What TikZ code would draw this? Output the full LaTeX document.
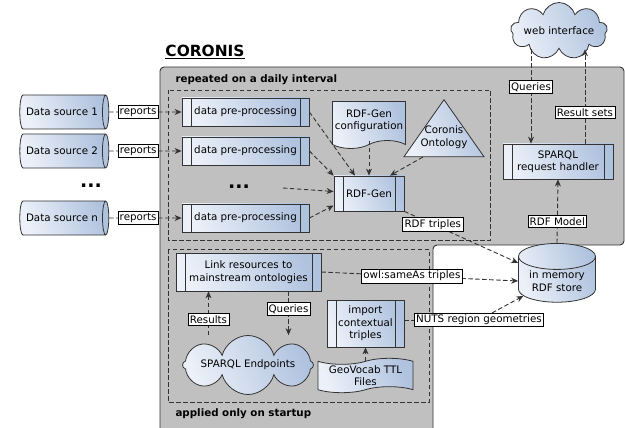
\documentclass[tikz,border=0pt]{standalone}
\usepackage{fontspec}
\setmainfont{DejaVu Sans}
\usetikzlibrary{positioning,shapes.geometric,shapes.symbols,arrows.meta}

\definecolor{boxlight}{HTML}{ECF1F9}
\definecolor{boxdark}{HTML}{AFC2DE}
\definecolor{panelgray}{HTML}{C0C0C0}
\definecolor{linegray}{HTML}{333333}

\tikzset{
    Fill/.style = {left color=boxlight, right color=boxdark, shading angle=110, draw=linegray, line width=0.8pt},
    Proc/.style = {Fill, rectangle, align=center, inner sep=1pt,
        path picture = {
            \draw[linegray, line width=0.8pt] ([xshift=9pt]path picture bounding box.north west) -- ([xshift=9pt]path picture bounding box.south west);
            \draw[linegray, line width=0.8pt] ([xshift=-9pt]path picture bounding box.north east) -- ([xshift=-9pt]path picture bounding box.south east);
        }},
    Source/.style = {Fill, cylinder, aspect=0.65, inner sep=1pt, minimum width=34pt, minimum height=89pt},
    Label/.style = {rectangle, solid, fill=white, draw=black, line width=0.6pt, inner sep=1.8pt},
    Flow/.style = {draw=linegray, line width=0.9pt, dash pattern=on 4.5pt off 2.5pt, -{Stealth[length=7pt,width=6pt]}},
    Frame/.style = {draw=linegray, line width=0.9pt, dash pattern=on 4.5pt off 2.5pt},
    Dots/.style = {font=\fontsize{19}{20}\bfseries, inner sep=0pt}
}

\begin{document}
\begin{tikzpicture}[x=1pt, y=-1pt, font=\fontsize{10.3}{12.4}\selectfont]
    \useasboundingbox (0,0) rectangle (625,428);

    % grey panel and frames
    \draw[draw=linegray, fill=panelgray, line width=0.9pt, rounded corners=4pt]
        (160,428) -- (160,67) -- (624,67) -- (624,245) -- (433,245) -- (433,428);
    \draw[Frame] (168,90) rectangle (490,240);
    \draw[Frame] (168,249) rectangle (429,402);
    \node (title) at (205,52) {\fontsize{15.4}{18}\selectfont\bfseries\underline{CORONIS}};
    \node[anchor=west] (daily) at (172,80) {\bfseries repeated on a daily interval};
    \node[anchor=west] (startup) at (172,414) {\bfseries applied only on startup};

    % data sources
    \node[Source] (ds1) at (62,112) {Data source 1};
    \node[Source] (ds2) at (62,151) {Data source 2};
    \node[Dots] (dsdots) at (91,186) {...};
    \node[Source] (dsn) at (62,218) {Data source n};

    % pre-processing
    \node[Proc, minimum width=127pt, minimum height=28pt] (pp1) at (245.5,112) {data pre-processing};
    \node[Proc, minimum width=127pt, minimum height=28pt] (pp2) at (245.5,151) {data pre-processing};
    \node[Dots] (ppdots) at (239,187) {...};
    \coordinate (ppline) at (283,188);
    \node[Proc, minimum width=127pt, minimum height=28pt] (pp3) at (245.5,218) {data pre-processing};

    % RDF generation
    \node[Proc, minimum width=70pt, minimum height=35pt] (rdfgen) at (369,193.5) {RDF-Gen};
    \node[Fill, tape, tape bend top=none, tape bend height=8pt, align=center, inner sep=1pt,
        minimum width=73pt, minimum height=47pt] (config) at (369,121) {RDF-Gen\\configuration};
    \node[Fill, isosceles triangle, isosceles triangle apex angle=70, shape border rotate=90,
        isosceles triangle stretches, minimum width=80pt, minimum height=57pt,
        align=center, inner sep=0pt, anchor=apex] (onto) at (444,99) {};
    \node[align=center, inner sep=0pt] (ontotext) at (444,137) {Coronis\\Ontology};

    % SPARQL side
    \node[Fill, cloud, cloud puffs=9, cloud ignores aspect, minimum width=92pt, minimum height=57pt,
        inner sep=0pt] (web) at (559,31) {web interface};
    \node[Proc, minimum width=110pt, minimum height=35pt] (handler) at (558,161.5) {SPARQL\\request handler};
    \node[Fill, cylinder, shape border rotate=90, aspect=0.45, align=center, inner sep=1pt,
        minimum width=77pt, minimum height=58pt] (store) at (557,281) {in memory\\RDF store};

    % startup part
    \node[Proc, minimum width=145pt, minimum height=38pt] (link) at (248.5,272) {Link resources to\\mainstream ontologies};
    \node[Fill, cloud, cloud puffs=8, cloud ignores aspect, minimum width=131pt, minimum height=59pt,
        inner sep=0pt] (endp) at (248,365) {SPARQL Endpoints};
    \node[Proc, minimum width=77pt, minimum height=47pt] (imp) at (365.5,323.5) {import\\contextual\\triples};
    \node[Fill, tape, tape bend height=6pt, align=center, inner sep=1pt,
        minimum width=95pt, minimum height=30pt] (geo) at (365.5,375.5) {GeoVocab TTL\\Files};

    % connectors
    \draw[Flow] (ds1) -- node[Label, pos=0.4] {reports} (pp1);
    \draw[Flow] (ds2) -- node[Label, pos=0.4] {reports} (pp2);
    \draw[Flow] (dsn) -- node[Label, pos=0.4] {reports} (pp3);
    \draw[Flow] (pp1.east) -- ([xshift=-14pt]rdfgen.north);
    \draw[Flow] (pp2.east) -- (rdfgen.north west);
    \draw[Flow] (ppline) -- ([yshift=2pt]rdfgen.west);
    \draw[Flow] (pp3.east) -- ([yshift=-12pt]rdfgen.west);
    \draw[Flow] (config.south) -- (rdfgen.north);
    \draw[Flow] (onto.225) -- ([xshift=21pt]rdfgen.north);

    \coordinate (hq) at ([xshift=-27pt]handler.north);
    \coordinate (hr) at ([xshift=27pt]handler.north);
    \draw[Flow] (web.south -| hq) -- node[Label, pos=0.4] {Queries} (hq);
    \draw[Flow] (hr) -- node[Label, pos=0.33] {Result sets} (web.south -| hr);
    \draw[Flow] (store.north) -- node[Label, pos=0.34] {RDF Model} (handler.south);

    \draw[Flow] (rdfgen.south east) -- node[Label, pos=0.25] {RDF triples} (store.155);
    \draw[Flow] (link.east) -- node[Label, pos=0.46] {owl:sameAs triples} (store.west);
    \node[Label] (nuts) at (479,320) {NUTS region geometries};
    \draw[Frame] (imp.east |- nuts) -- (nuts);
    \draw[Flow] (nuts) -- (store.204);

    \coordinate (lr) at ([xshift=-40pt]link.south);
    \coordinate (lq) at ([xshift=40pt]link.south);
    \draw[Flow] (endp.north -| lr) -- node[Label, pos=0.36] {Results} (lr);
    \draw[Flow] (lq) -- node[Label, pos=0.4] {Queries} (endp.north -| lq);
    \draw[Flow] (geo.north) -- (imp.south);
\end{tikzpicture}
\end{document}
